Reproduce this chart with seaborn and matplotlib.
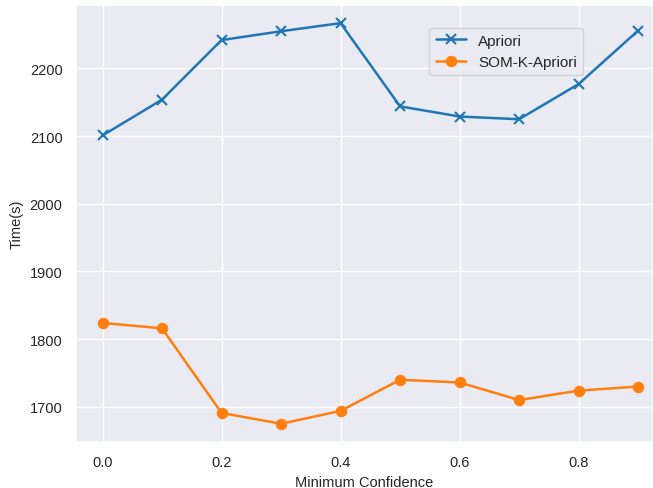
import pandas as pd
import matplotlib.pyplot as plt
import seaborn as sns

# Data
confidence = [0.0, 0.1, 0.2, 0.3, 0.4, 0.5, 0.6, 0.7, 0.8, 0.9]
apriori = [2101, 2154, 2242, 2255, 2267, 2144, 2129, 2125, 2177, 2256]
som_k_apriori = [1824, 1816, 1691, 1675, 1694, 1740, 1736, 1710, 1724, 1730]

df = pd.DataFrame({
    "Minimum Confidence": confidence,
    "Apriori": apriori,
    "SOM-K-Apriori": som_k_apriori,
})

sns.set_theme(style="darkgrid")
plt.rcParams["font.family"] = ["Liberation Sans", "DejaVu Sans"]

fig, ax = plt.subplots(figsize=(6.53, 4.89), dpi=100)
sns.lineplot(data=df, x="Minimum Confidence", y="Apriori", color="#1f77b4",
             marker="x", markersize=7.5, markeredgewidth=1.5,
             markeredgecolor="#1f77b4", linewidth=1.8,
             label="Apriori", ax=ax)
sns.lineplot(data=df, x="Minimum Confidence", y="SOM-K-Apriori", color="#ff7f0e",
             marker="o", markersize=7.5, markeredgecolor="#ff7f0e", linewidth=1.8,
             label="SOM-K-Apriori", ax=ax)

ax.legend(loc="upper right", bbox_to_anchor=(0.879, 0.948), borderaxespad=0,
          fontsize=11)

ax.set_ylim(1648, 2294)
ax.set_xlim(-0.045, 0.925)
ax.set_xlabel("Minimum Confidence", fontsize=10.5)
ax.set_ylabel("Time(s)", fontsize=10.5)
ax.tick_params(labelsize=10.5)

plt.subplots_adjust(left=0.116, right=1.0, top=0.988, bottom=0.094)
plt.savefig("out.png")
